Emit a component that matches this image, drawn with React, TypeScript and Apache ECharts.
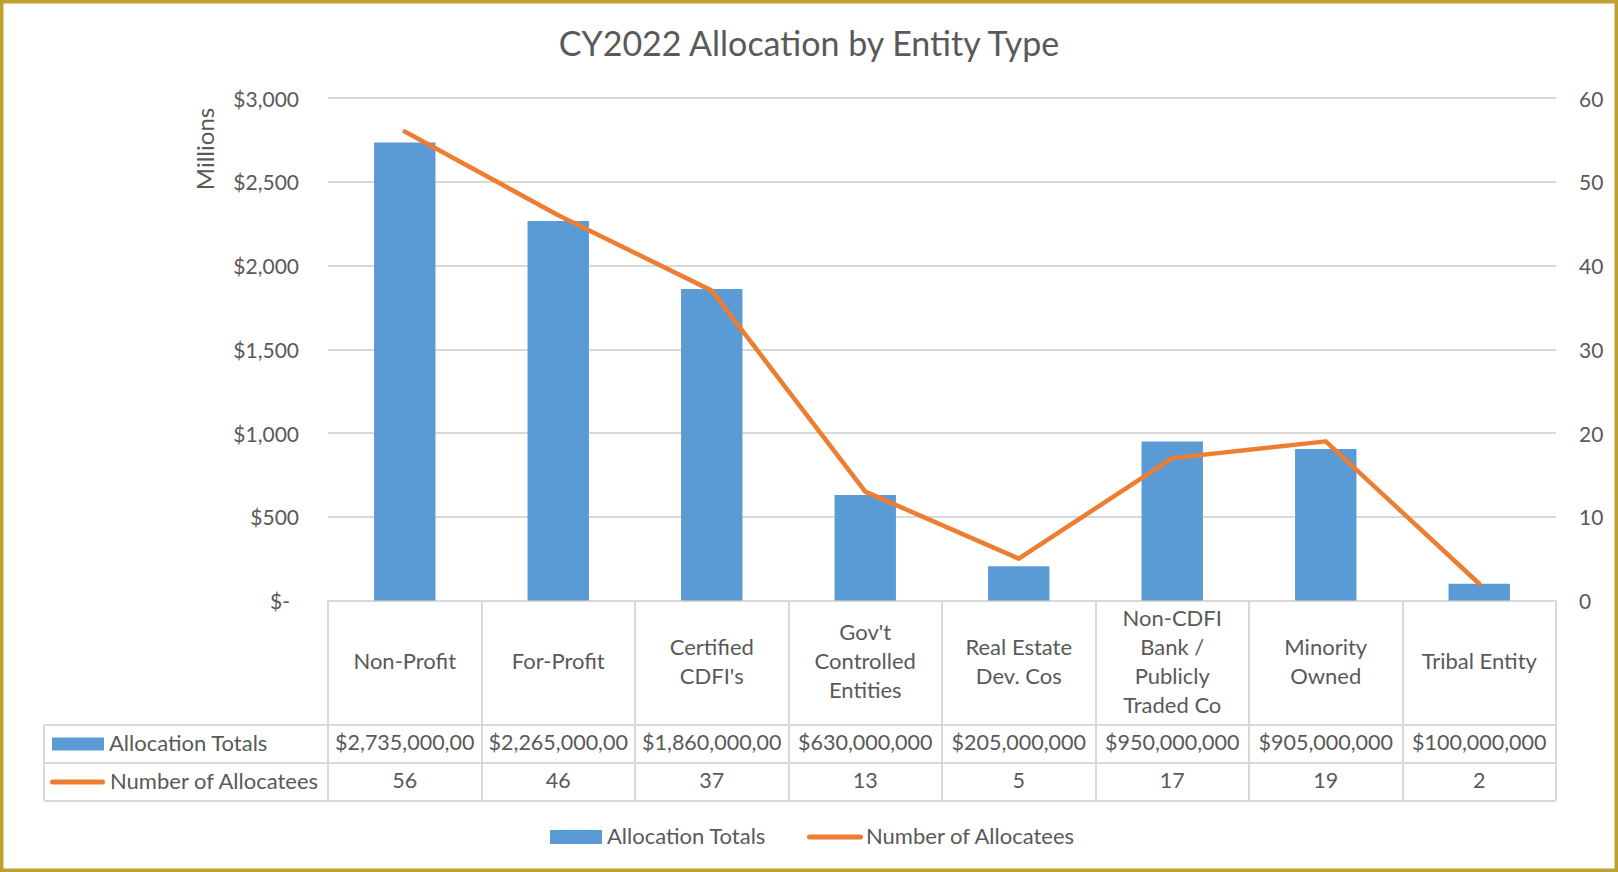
import React, { useEffect, useRef } from "react";
import * as echarts from "echarts";

// ---------- DATA ----------
const categories = [
  "Non-Profit",
  "For-Profit",
  "Certified\nCDFI's",
  "Gov't\nControlled\nEntities",
  "Real Estate\nDev. Cos",
  "Non-CDFI\nBank /\nPublicly\nTraded Co",
  "Minority\nOwned",
  "Tribal Entity",
];
const allocationTotals = [2735000000, 2265000000, 1860000000, 630000000, 205000000, 950000000, 905000000, 100000000];
const numberOfAllocatees = [56, 46, 37, 13, 5, 17, 19, 2];
const seriesNames = ["Allocation Totals", "Number of Allocatees"];
const titleText = "CY2022 Allocation by Entity Type";
const leftAxisName = "Millions";
const leftAxisMax = 3000;
const leftAxisInterval = 500;
const rightAxisMax = 60;
const rightAxisInterval = 10;

// ---------- STYLE ----------
const FONT = "Lato, 'Open Sans', sans-serif";
const TEXT = "#595959";
const GRID_LINE = "#D9D9D9";
const BLUE = "#5B9BD5";
const ORANGE = "#ED7D31";
const FS = 21;
const FS_WORD = 22;
const FS_NUM = 21.5;
const DY = -2;

const W = 1618;
const H = 872;
const GRID_TOP = 98;
const GRID_BOTTOM_Y = 600.5;
const HEADER_BOTTOM = 725;
const ROW1_BOTTOM = 763;
const ROW2_BOTTOM = 801;
const TABLE_LEFT = 44;

const fmtMoney = (v: number) => "$" + v.toLocaleString("en-US");

function buildGraphic(centers: number[], band: number) {
  const gr = centers[centers.length - 1] + band / 2;
  const els: any[] = [];
  const line = (x1: number, y1: number, x2: number, y2: number) => ({
    type: "line",
    silent: true,
    shape: { x1, y1, x2, y2 },
    style: { stroke: GRID_LINE, lineWidth: 2 },
  });
  [HEADER_BOTTOM, ROW1_BOTTOM, ROW2_BOTTOM].forEach((y) => els.push(line(TABLE_LEFT, y, gr, y)));
  els.push(line(TABLE_LEFT, HEADER_BOTTOM, TABLE_LEFT, ROW2_BOTTOM));

  const r1 = (HEADER_BOTTOM + ROW1_BOTTOM) / 2;
  const r2 = (ROW1_BOTTOM + ROW2_BOTTOM) / 2;
  const txt = (text: string, x: number, y: number, align: string, fs: number, extra: any = {}) => ({
    type: "text",
    silent: true,
    x,
    y: y + DY,
    style: {
      text,
      fill: TEXT,
      fontSize: fs,
      fontFamily: FONT,
      align,
      verticalAlign: "middle",
      ...extra,
    },
  });

  // row headers
  els.push({ type: "rect", silent: true, shape: { x: 52, y: r1 - 6.5, width: 52, height: 13 }, style: { fill: BLUE } });
  els.push(txt(seriesNames[0], 109, r1, "left", FS_WORD));
  els.push({
    type: "line",
    silent: true,
    shape: { x1: 52.5, y1: r2, x2: 102.5, y2: r2 },
    style: { stroke: ORANGE, lineWidth: 5, lineCap: "round" },
  });
  els.push(txt(seriesNames[1], 110, r2, "left", FS_WORD));

  // cell values
  centers.forEach((cx, i) => {
    els.push(
      txt(fmtMoney(allocationTotals[i]), cx, r1, "center", FS_NUM, {
        width: band - 8,
        overflow: "truncate",
        ellipsis: "",
      })
    );
    els.push(txt(String(numberOfAllocatees[i]), cx, r2, "center", FS_NUM));
  });

  // bottom legend
  const ly = 837;
  els.push({ type: "rect", silent: true, shape: { x: 550, y: ly - 7, width: 52, height: 14 }, style: { fill: BLUE } });
  els.push(txt(seriesNames[0], 607, ly, "left", FS_WORD));
  els.push({
    type: "line",
    silent: true,
    shape: { x1: 809.5, y1: ly, x2: 860.5, y2: ly },
    style: { stroke: ORANGE, lineWidth: 5, lineCap: "round" },
  });
  els.push(txt(seriesNames[1], 866, ly, "left", FS_WORD));

  // axis name
  els.push({
    type: "text",
    silent: true,
    x: 204,
    y: 149,
    rotation: Math.PI / 2,
    style: {
      text: leftAxisName,
      fill: TEXT,
      fontSize: 24,
      fontFamily: FONT,
      align: "center",
      verticalAlign: "middle",
    },
  });

  // border
  els.push({
    type: "rect",
    silent: true,
    z: 100,
    shape: { x: 1.75, y: 1.75, width: W - 3.5, height: H - 3.5 },
    style: { fill: "none", stroke: "#BF9F2E", lineWidth: 3.5 },
  });
  return els;
}

export default function App() {
  const ref = useRef<HTMLDivElement>(null);
  useEffect(() => {
    const el = ref.current!;
    const chart = echarts.init(el, null, { renderer: "svg" });
    const option: any = {
      animation: false,
      backgroundColor: "#ffffff",
      title: {
        text: titleText,
        left: "center",
        top: 20,
        textStyle: { fontSize: 34, fontWeight: "normal", color: TEXT, fontFamily: FONT },
      },
      grid: {
        left: 328,
        right: 62,
        top: GRID_TOP,
        bottom: H - GRID_BOTTOM_Y,
      },
      xAxis: {
        type: "category",
        data: categories,
        axisLine: { show: true, lineStyle: { color: GRID_LINE, width: 2 } },
        axisTick: { show: true, alignWithLabel: false, length: ROW2_BOTTOM - GRID_BOTTOM_Y, lineStyle: { color: GRID_LINE, width: 2 } },
        axisLabel: {
          interval: 0,
          margin: (GRID_BOTTOM_Y + HEADER_BOTTOM) / 2 - GRID_BOTTOM_Y + DY,
          verticalAlign: "middle",
          align: "center",
          lineHeight: 29,
          color: TEXT,
          fontSize: FS_WORD,
          fontFamily: FONT,
        },
        splitLine: { show: false },
      },
      yAxis: [
        {
          type: "value",
          min: 0,
          max: leftAxisMax,
          interval: leftAxisInterval,
          axisLine: { show: false },
          axisTick: { show: false },
          splitLine: { show: true, lineStyle: { color: GRID_LINE, width: 2 } },
          axisLabel: {
            margin: 29,
            color: TEXT,
            fontSize: FS,
            fontFamily: FONT,
            formatter: (v: number) => (v === 0 ? "{z|$-}" : "$" + v.toLocaleString("en-US")),
            rich: { z: { padding: [0, 9, 0, 0], color: TEXT, fontSize: FS, fontFamily: FONT } },
          },
        },
        {
          type: "value",
          min: 0,
          max: rightAxisMax,
          interval: rightAxisInterval,
          position: "right",
          axisLine: { show: false },
          axisTick: { show: false },
          splitLine: { show: false },
          axisLabel: { margin: 23, color: TEXT, fontSize: FS, fontFamily: FONT },
        },
      ],
      series: [
        {
          name: seriesNames[0],
          type: "bar",
          yAxisIndex: 0,
          barWidth: "40%",
          itemStyle: { color: BLUE },
          data: allocationTotals.map((v) => v / 1e6),
        },
        {
          name: seriesNames[1],
          type: "line",
          yAxisIndex: 1,
          symbol: "none",
          lineStyle: { color: ORANGE, width: 4.5, cap: "round", join: "round" },
          itemStyle: { color: ORANGE },
          data: numberOfAllocatees,
        },
      ],
    };
    chart.setOption(option);
    const centers = categories.map((_, i) => chart.convertToPixel({ xAxisIndex: 0 }, i) as number);
    const band = centers[1] - centers[0];
    chart.setOption({ graphic: buildGraphic(centers, band) });
    return () => chart.dispose();
  }, []);
  return (
    <div
      ref={ref}
      style={{ position: "fixed", left: 0, top: 0, width: W, height: H, background: "#fff" }}
    />
  );
}
